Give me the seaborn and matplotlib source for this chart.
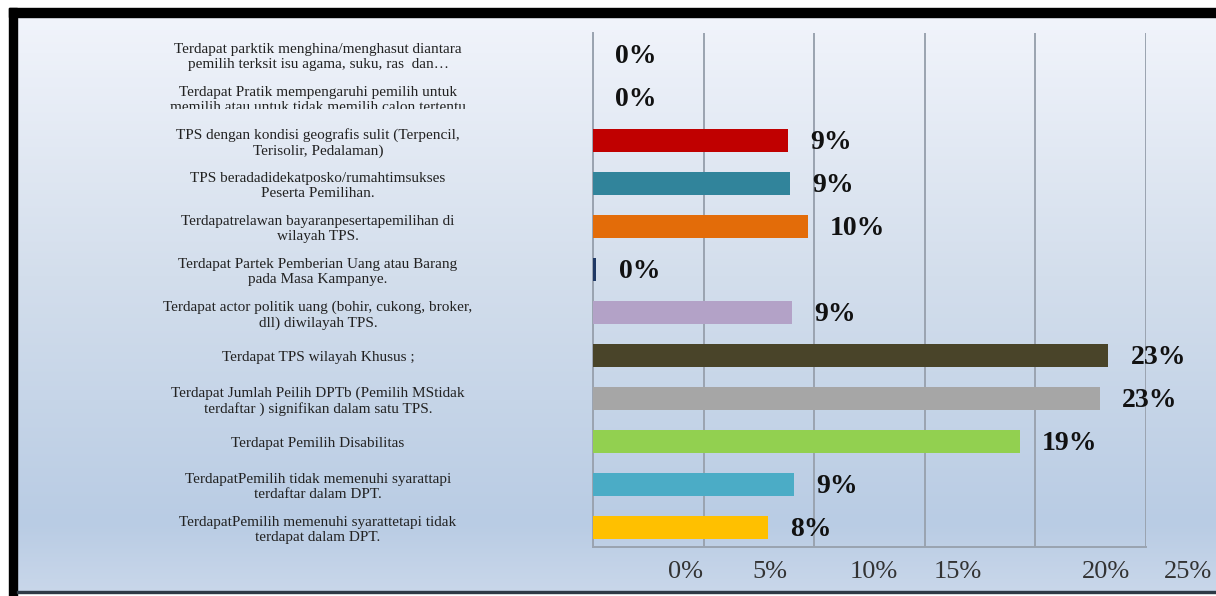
import numpy as np
import matplotlib
matplotlib.use("Agg")
import matplotlib.pyplot as plt
from matplotlib.patches import Rectangle
from matplotlib.colors import LinearSegmentedColormap
from matplotlib.transforms import Bbox, TransformedBbox
import seaborn as sns

categories = [
    "Terdapat parktik menghina/menghasut diantara\npemilih terksit isu agama, suku, ras  dan\u2026",
    "Terdapat Pratik mempengaruhi pemilih untuk\nmemilih atau untuk tidak memilih calon tertentu",
    "TPS dengan kondisi geografis sulit (Terpencil,\nTerisolir, Pedalaman)",
    "TPS beradadidekatposko/rumahtimsukses\nPeserta Pemilihan.",
    "Terdapatrelawan bayaranpesertapemilihan di\nwilayah TPS.",
    "Terdapat Partek Pemberian Uang atau Barang\npada Masa Kampanye.",
    "Terdapat actor politik uang (bohir, cukong, broker,\ndll) diwilayah TPS.",
    "Terdapat TPS wilayah Khusus ;",
    "Terdapat Jumlah Peilih DPTb (Pemilih MStidak\nterdaftar ) signifikan dalam satu TPS.",
    "Terdapat Pemilih Disabilitas",
    "TerdapatPemilih tidak memenuhi syarattapi\nterdaftar dalam DPT.",
    "TerdapatPemilih memenuhi syarattetapi tidak\nterdapat dalam DPT.",
]
values = [0.0, 0.0, 8.8, 8.9, 9.7, 0.15, 9.0, 23.3, 22.9, 19.3, 9.1, 7.9]
value_labels = ["0%", "0%", "9%", "9%", "10%", "0%", "9%", "23%", "23%", "19%", "9%", "8%"]
colors = ["#4f81bd", "#4f81bd", "#c00000", "#31849b", "#e36c09", "#1f3864",
          "#b3a2c7", "#494429", "#a6a6a6", "#92d050", "#4bacc6", "#ffc000"]
x_ticks = [0, 5, 10, 15, 20, 25]
x_tick_labels = ["0%", "5%", "10%", "15%", "20%", "25%"]
x_tick_label_pos = [4.2, 8.0, 12.7, 16.5, 23.2, 26.9]

W, H = 1216, 596
SERIF = ["Liberation Serif", "DejaVu Serif"]
fig = plt.figure(figsize=(W / 100, H / 100), dpi=100)
fig.patch.set_facecolor("white")

# background gradient
bg = fig.add_axes([17 / W, 3 / H, 1 - 17 / W, (H - 17 - 3) / H], zorder=-5)
cmap = LinearSegmentedColormap.from_list(
    "bg", [(0.0, "#f1f4fb"), (0.45, "#d3deec"), (0.88, "#b9cce4"), (1.0, "#c9d7ea")])
grad = np.linspace(0, 1, 256).reshape(-1, 1)
bg.imshow(grad, aspect="auto", cmap=cmap, extent=[0, 1, 0, 1], origin="upper")
bg.set_axis_off()

# borders
fig.patches.append(Rectangle((9 / W, 1 - 17 / H), 1, 9 / H, transform=fig.transFigure,
                             color="black", zorder=10))
fig.patches.append(Rectangle((9 / W, 0), 8 / W, 1 - 8 / H, transform=fig.transFigure,
                             color="black", zorder=10))
fig.patches.append(Rectangle((17 / W, 3 / H), 1, 2.5 / H, transform=fig.transFigure,
                             color="#2e3a46", zorder=10))

left, right, top, bottom = 593, 1146, 33, 547
ax = fig.add_axes([left / W, 1 - bottom / H, (right - left) / W, (bottom - top) / H])
ax.set_facecolor("none")

sns.barplot(x=values, y=categories, hue=categories, palette=colors, legend=False,
            orient="h", width=0.53, saturation=1, ax=ax, zorder=3)

ax.set_xlim(0, 25)
ax.set_ylim(11.45, -0.5)
ax.set_xticks(x_ticks)
ax.set_xticklabels([])
ax.tick_params(axis="x", length=0)
ax.grid(axis="x", color="#9aa3b0", linewidth=1.4, zorder=0)
ax.set_axisbelow(True)
for s in ["top", "right"]:
    ax.spines[s].set_visible(False)
for s in ["left", "bottom"]:
    ax.spines[s].set_color("#9aa3b0")
    ax.spines[s].set_linewidth(1.4)

ax.tick_params(axis="y", length=0, pad=198)
fig.canvas.draw()
ylabs = ax.get_yticklabels()
for lab in ylabs:
    lab.set_ha("center")
    lab.set_multialignment("center")
    lab.set_family(SERIF)
    lab.set_fontsize(11)
    lab.set_color("#222222")
    lab.set_linespacing(1.2)
# second label is cut off in the original picture
ylabs[1].set_clip_on(True)
ylabs[1].set_clip_box(TransformedBbox(Bbox([[0, 1 - 109 / H], [1, 1]]), fig.transFigure))

for i, (v, t) in enumerate(zip(values, value_labels)):
    ax.annotate(t, xy=(v, i), xytext=(16, -1.5), textcoords="offset points",
                va="center", ha="left", fontsize=20, fontweight="bold",
                family=SERIF, color="#111111")

xt = ax.get_xaxis_transform()
for p, t in zip(x_tick_label_pos, x_tick_labels):
    ax.text(p, -0.048, t, transform=xt, ha="center", va="center", fontsize=19,
            family=SERIF, color="#333333", clip_on=False)

ax.set_xlabel("")
ax.set_ylabel("")
fig.savefig("out.png", dpi=100)
